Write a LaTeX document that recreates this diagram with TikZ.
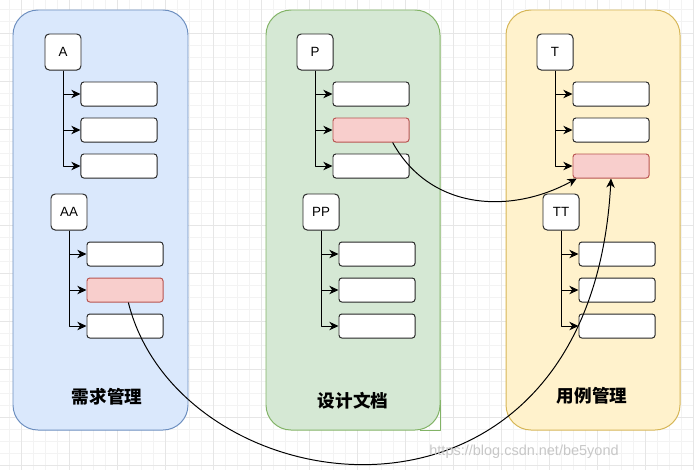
\documentclass[tikz,border=0pt]{standalone}
\usepackage{fontspec}
\setmainfont{Liberation Sans}
\newfontfamily\cjk{Noto Sans CJK SC}
\usepackage{xcolor}
\usetikzlibrary{arrows.meta}

\definecolor{bluefill}{HTML}{DAE8FC}
\definecolor{bluedraw}{HTML}{6C8EBF}
\definecolor{greenfill}{HTML}{D5E8D4}
\definecolor{greendraw}{HTML}{82B366}
\definecolor{yellowfill}{HTML}{FFF2CC}
\definecolor{yellowdraw}{HTML}{D6B656}
\definecolor{redfill}{HTML}{F8CECC}
\definecolor{reddraw}{HTML}{B85450}
\definecolor{gridminor}{HTML}{F3F3F3}
\definecolor{gridmajor}{HTML}{E6E6E6}

\begin{document}
\begin{tikzpicture}[x=0.025cm, y=-0.025cm, line join=round,
    group/.style={rounded corners=0.625cm, line width=0.7pt},
    head/.style={draw=black!85, fill=white, rounded corners=3pt, line width=0.7pt,
      minimum width=0.9cm, minimum height=0.9cm, inner sep=0pt, font=\fontsize{9.5}{10}\selectfont},
    leaf/.style={draw=black!85, fill=white, rounded corners=2pt, line width=0.7pt,
      minimum width=1.9cm, minimum height=0.6cm, inner sep=0pt},
    hot/.style={leaf, draw=reddraw, fill=redfill},
    branch/.style={line width=0.7pt, -{Stealth[length=6.5pt,width=6pt,inset=2pt]}},
    link/.style={line width=0.7pt, -{Stealth[length=6.5pt,width=6pt,inset=2pt]}},
    title/.style={font=\cjk\bfseries\fontsize{12.5}{14}\selectfont}]
  \useasboundingbox (0,0) rectangle (694,470);
  % grid
  \foreach \gx in {9,21,...,693} \draw[gridminor, line width=0.5pt] (\gx,0) -- (\gx,470);
  \foreach \gy in {9,21,...,469} \draw[gridminor, line width=0.5pt] (0,\gy) -- (694,\gy);
  \foreach \gx in {21,69,...,693} \draw[gridmajor, line width=0.5pt] (\gx,0) -- (\gx,470);
  \foreach \gy in {33,81,...,469} \draw[gridmajor, line width=0.5pt] (0,\gy) -- (694,\gy);

  % groups
  \filldraw[group, fill=bluefill, draw=bluedraw] (13,10) rectangle (188,430);
  \draw[greendraw, line width=0.7pt] (440,400) -- (440,430) -- (420,430);
  \filldraw[group, fill=greenfill, draw=greendraw] (266,10) rectangle (440,430);
  \filldraw[group, fill=yellowfill, draw=yellowdraw] (506,10) rectangle (680,430);

  % 1st group
  \node[head] (a) at (63,52) {A};
  \node[leaf] (a1) at (119,94) {};
  \node[leaf] (a2) at (119,130) {};
  \node[leaf] (a3) at (119,166) {};
  \node[head] (aa) at (69,212) {AA};
  \node[leaf] (aa1) at (125,254) {};
  \node[hot] (aa2) at (125,290) {};
  \node[leaf] (aa3) at (125,326) {};
  \node[title] (req) at (107,397) {需求管理};

  % 2nd group
  \node[head] (p) at (315,52) {P};
  \node[leaf] (p1) at (371,94) {};
  \node[hot] (p2) at (371,130) {};
  \node[leaf] (p3) at (371,166) {};
  \node[head] (pp) at (321,212) {PP};
  \node[leaf] (pp1) at (377,254) {};
  \node[leaf] (pp2) at (377,290) {};
  \node[leaf] (pp3) at (377,326) {};
  \node[title] (doc) at (353,401) {设计文档};

  % 3rd group
  \node[head] (t) at (555,52) {T};
  \node[leaf] (t1) at (611,94) {};
  \node[leaf] (t2) at (611,130) {};
  \node[hot] (t3) at (611,166) {};
  \node[head] (tt) at (561,212) {TT};
  \node[leaf] (tt1) at (617,254) {};
  \node[leaf] (tt2) at (617,290) {};
  \node[leaf] (tt3) at (617,326) {};
  \node[title] (case) at (592,396) {用例管理};

  % branches
  \draw[branch] (a) |- (a1);
  \draw[branch] (a) |- (a2);
  \draw[branch] (a) |- (a3);
  \draw[branch] (aa) |- (aa1);
  \draw[branch] (aa) |- (aa2);
  \draw[branch] (aa) |- (aa3);
  \draw[branch] (p) |- (p1);
  \draw[branch] (p) |- (p2);
  \draw[branch] (p) |- (p3);
  \draw[branch] (pp) |- (pp1);
  \draw[branch] (pp) |- (pp2);
  \draw[branch] (pp) |- (pp3);
  \draw[branch] (t) |- (t1);
  \draw[branch] (t) |- (t2);
  \draw[branch] (t) |- (t3);
  \draw[branch] (tt) |- (tt1);
  \draw[branch] (tt) |- (tt2);
  \draw[branch] (tt) |- (tt3);

  % links
  \draw[link] (p2.-30) .. controls (430,210) and (510,215) .. (t3.-160);
  \draw[link] (aa2.-75) .. controls (180,510) and (590,565) .. (t3.south);

  \node[text=black!22, font=\fontsize{10.3}{12}\selectfont] (mark) at (524,452) {https://blog.csdn.net/be5yond};
\end{tikzpicture}
\end{document}
